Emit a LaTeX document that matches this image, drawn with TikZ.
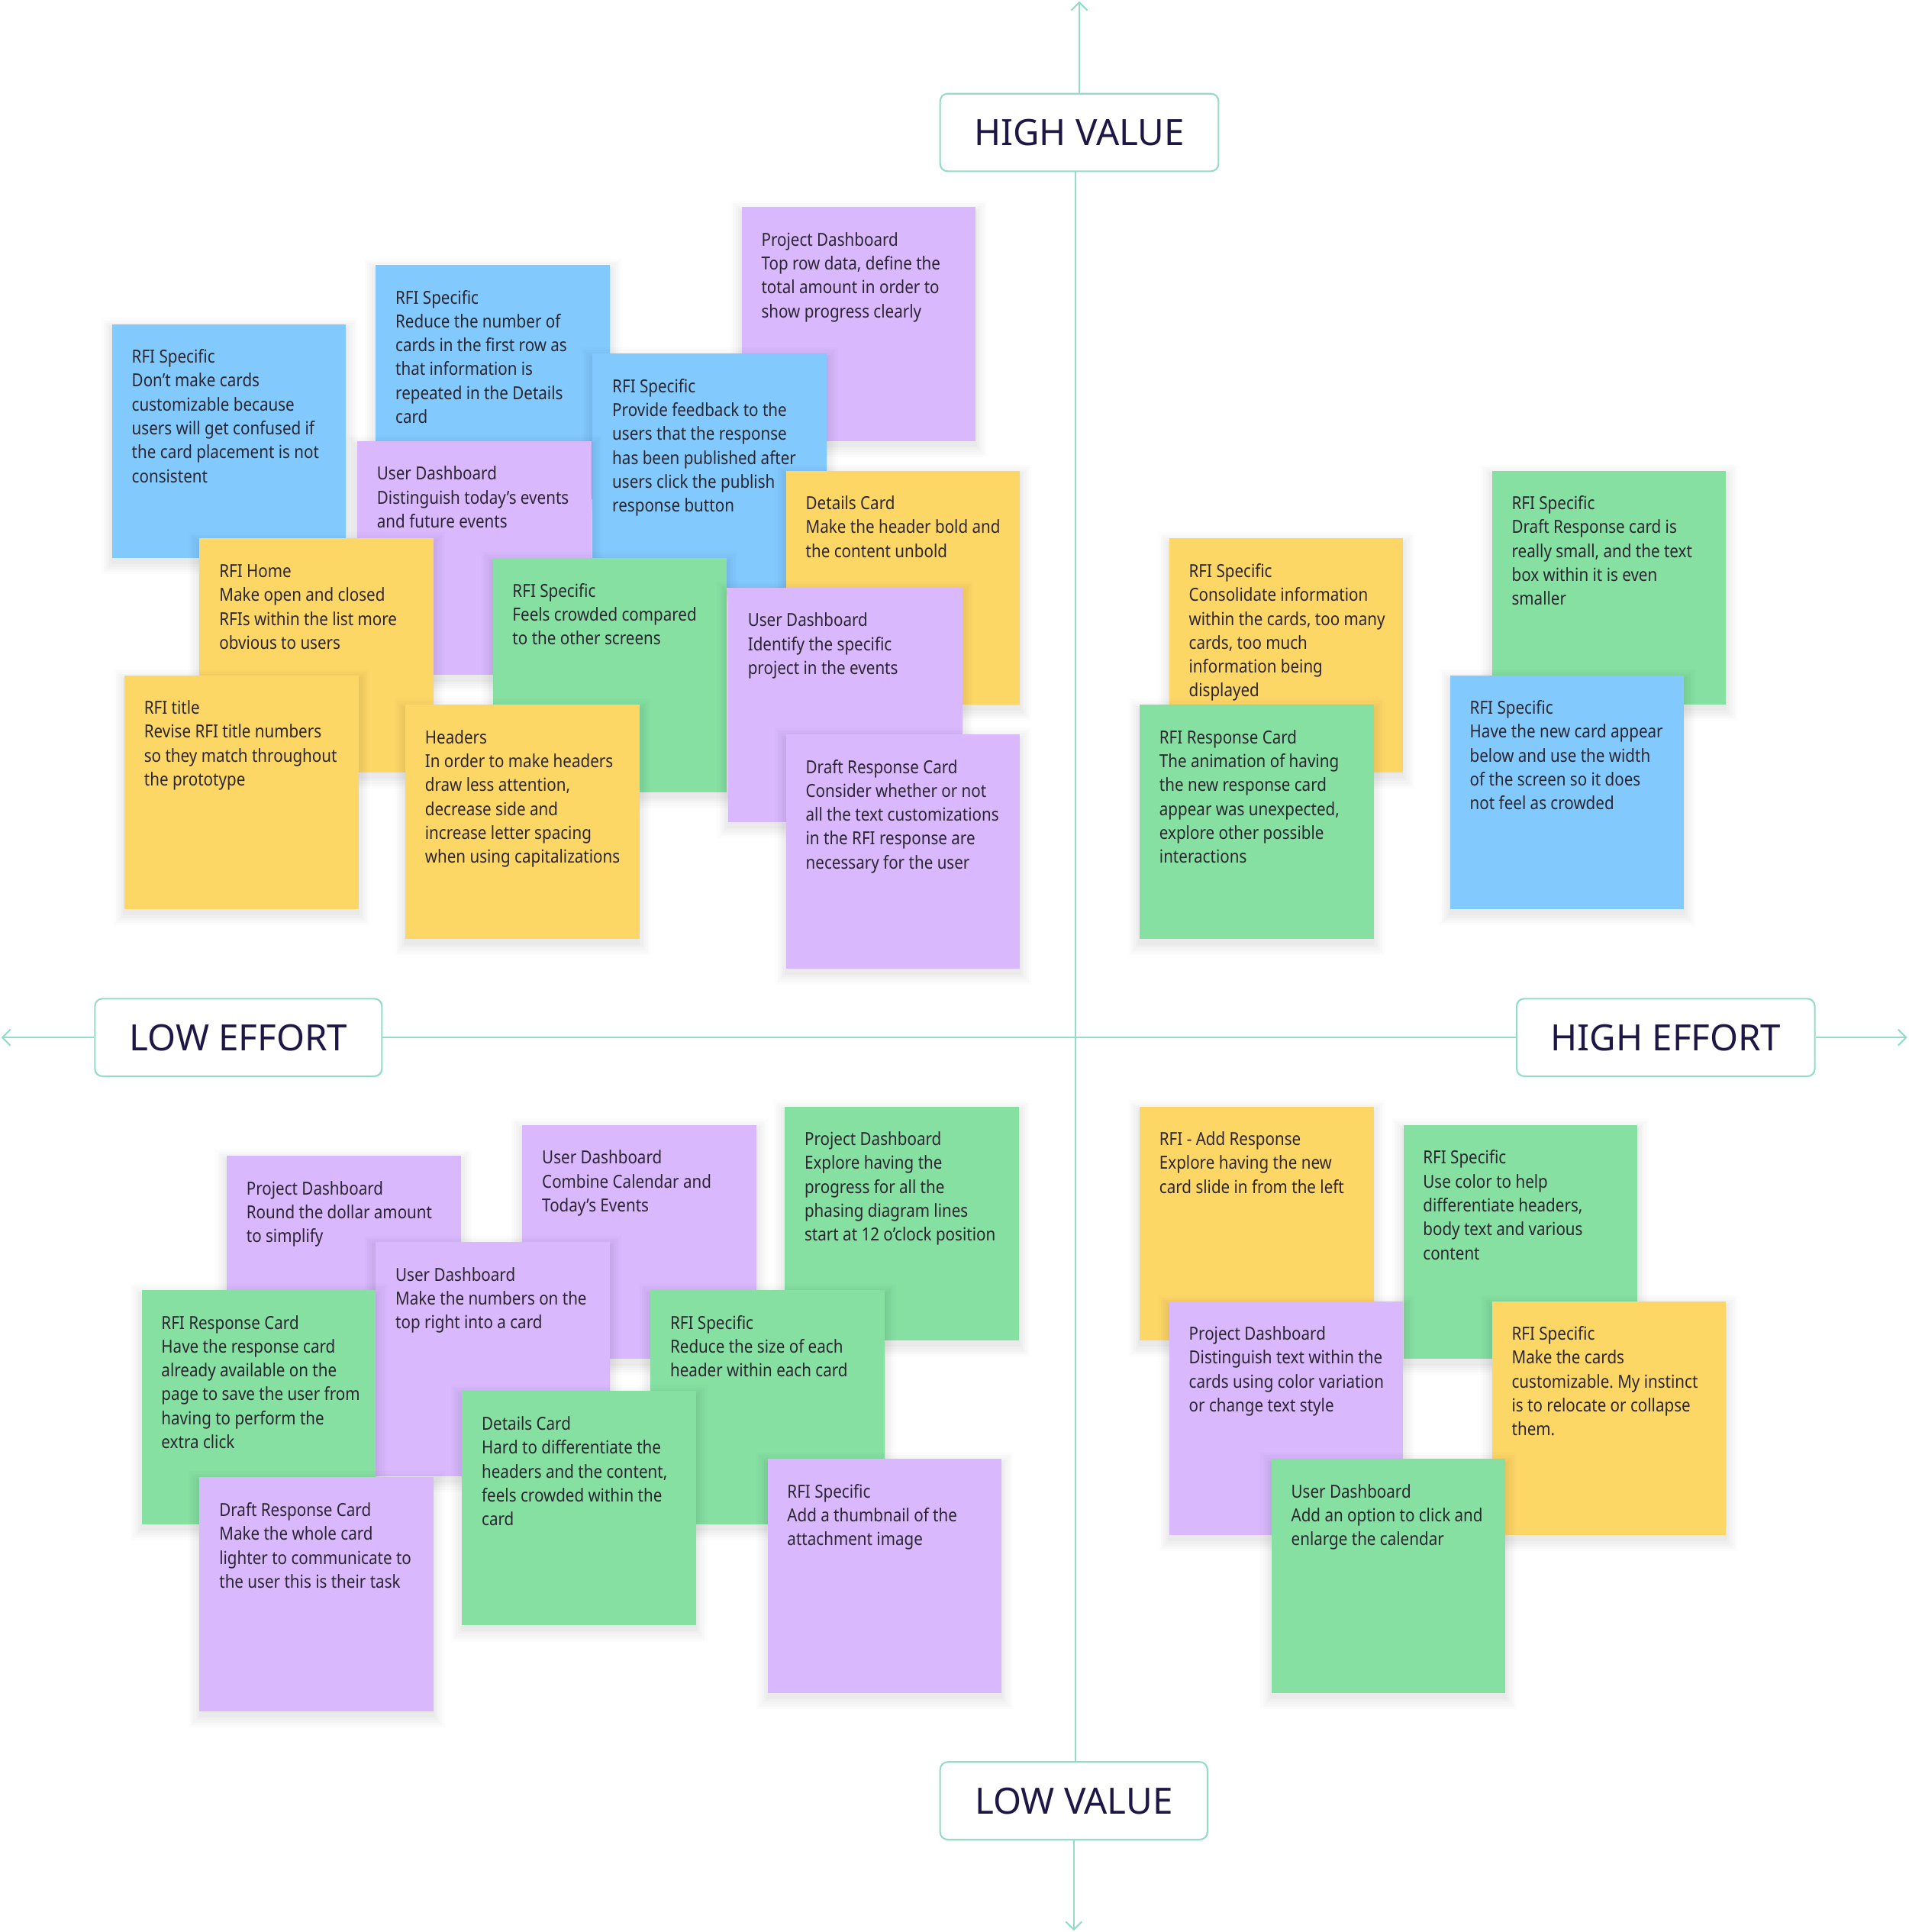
\documentclass[tikz,border=0pt]{standalone}
\usepackage{fontspec}
\setmainfont{Noto Sans}
\newfontfamily\cardfont[FakeStretch=0.875]{Noto Sans}
\frenchspacing
\usetikzlibrary{arrows.meta}
\definecolor{cblue}{HTML}{82CAFE}
\definecolor{cpurple}{HTML}{D9B8FD}
\definecolor{cyellow}{HTML}{FDD766}
\definecolor{cgreen}{HTML}{86E0A2}
\definecolor{axiscol}{HTML}{94DCC4}
\definecolor{ink}{HTML}{1E1745}
\definecolor{cardink}{HTML}{2B2530}
\tikzset{
  cardbox/.style={minimum width=3.0664cm, minimum height=3.0664cm, inner sep=0pt, outer sep=0pt},
  cardtext/.style={anchor=base west, inner sep=0pt, outer sep=0pt, text=cardink, font=\cardfont\fontsize{6.7}{8.91}\selectfont},
  axlabel/.style={draw=axiscol, line width=0.6pt, rounded corners=2.8pt, fill=white, text=ink,
    font=\fontsize{13.5}{16}\selectfont, minimum height=1.0168cm, inner sep=0pt},
  axisline/.style={draw=axiscol, line width=0.6pt},
  axistip/.style={-{Straight Barb[length=3pt,width=6pt]}}
}
\newcommand\card[5]{%
  \foreach \g/\o in {9/0.012,7/0.014,5/0.016,3/0.018,1/0.02}{\fill[black,opacity=\o] (#3-\g,#4+4-\g) rectangle (#3+190+\g,#4+194+\g);}
  \node[cardbox,fill=#2,anchor=north west] (#1) at (#3,#4) {};
  \node[cardtext] (#1t) at (#3+16,#4+31.6) {\parbox[t]{100pt}{\raggedright\frenchspacing #5}};
}
\begin{document}
\begin{tikzpicture}[x=0.016139cm,y=-0.016139cm]
\useasboundingbox (0,0) rectangle (1549,1568);

% axes
\node[axlabel, minimum width=3.647cm] (hv) at (876,107.5) {HIGH VALUE};
\node[axlabel, minimum width=3.502cm] (lv) at (871.5,1461.5) {LOW VALUE};
\node[axlabel, minimum width=3.760cm] (le) at (193.5,842) {LOW EFFORT};
\node[axlabel, minimum width=3.906cm] (he) at (1352,842) {HIGH EFFORT};
\coordinate (ax) at (873,842);
\coordinate (topend) at (876,1);
\coordinate (botend) at (871.5,1567);
\coordinate (leftend) at (1,842);
\coordinate (rightend) at (1548,842);
\draw[axisline,axistip] (hv.north) -- (topend);
\draw[axisline] (hv.south -| ax) -- (lv.north -| ax);
\draw[axisline,axistip] (lv.south) -- (botend);
\draw[axisline,axistip] (le.west) -- (leftend);
\draw[axisline] (le.east) -- (he.west);
\draw[axisline,axistip] (he.east) -- (rightend);

% upper left
\card{c1}{cblue}{91}{263}{RFI Specific\\Don’t make cards\\customizable because\\users will get confused if\\the card placement is not\\consistent}
\card{c2}{cblue}{305}{215}{RFI Specific\\Reduce the number of\\cards in the first row as\\that information is\\repeated in the Details\\card}
\card{c3}{cpurple}{602}{168}{Project Dashboard\\Top row data, define the\\total amount in order to\\show progress clearly}
\card{c4}{cblue}{481}{287}{RFI Specific\\Provide feedback to the\\users that the response\\has been published after\\users click the publish\\response button}
\card{c5}{cpurple}{290}{358}{User Dashboard\\Distinguish today’s events\\and future events}
\card{c6}{cyellow}{638}{382}{Details Card\\Make the header bold and\\the content unbold}
\card{c7}{cyellow}{162}{437}{RFI Home\\Make open and closed\\RFIs within the list more\\obvious to users}
\card{c8}{cgreen}{400}{453}{RFI Specific\\Feels crowded compared\\to the other screens}
\card{c9}{cpurple}{591}{477}{User Dashboard\\Identify the specific\\project in the events}
\card{c10}{cyellow}{101}{548}{RFI title\\Revise RFI title numbers\\so they match throughout\\the prototype}
\card{c11}{cyellow}{329}{572}{Headers\\In order to make headers\\draw less attention,\\decrease side and\\increase letter spacing\\when using capitalizations}
\card{c12}{cpurple}{638}{596}{Draft Response Card\\Consider whether or not\\all the text customizations\\in the RFI response are\\necessary for the user}

% upper right
\card{c13}{cyellow}{949}{437}{RFI Specific\\Consolidate information\\within the cards, too many\\cards, too much\\information being\\displayed}
\card{c14}{cgreen}{925}{572}{RFI Response Card\\The animation of having\\the new response card\\appear was unexpected,\\explore other possible\\interactions}
\card{c15}{cgreen}{1211}{382}{RFI Specific\\Draft Response card is\\really small, and the text\\box within it is even\\smaller}
\card{c16}{cblue}{1177}{548}{RFI Specific\\Have the new card appear\\below and use the width\\of the screen so it does\\not feel as crowded}

% lower left
\card{c17}{cpurple}{184}{938}{Project Dashboard\\Round the dollar amount\\to simplify}
\card{c18}{cpurple}{424}{913}{User Dashboard\\Combine Calendar and\\Today’s Events}
\card{c19}{cgreen}{637}{898}{Project Dashboard\\Explore having the\\progress for all the\\phasing diagram lines\\start at 12 o’clock position}
\card{c20}{cpurple}{305}{1008}{User Dashboard\\Make the numbers on the\\top right into a card}
\card{c21}{cgreen}{115}{1047}{RFI Response Card\\Have the response card\\already available on the\\page to save the user from\\having to perform the\\extra click}
\card{c22}{cgreen}{528}{1047}{RFI Specific\\Reduce the size of each\\header within each card}
\card{c23}{cgreen}{375}{1129}{Details Card\\Hard to differentiate the\\headers and the content,\\feels crowded within the\\card}
\card{c24}{cpurple}{162}{1199}{Draft Response Card\\Make the whole card\\lighter to communicate to\\the user this is their task}
\card{c25}{cpurple}{623}{1184}{RFI Specific\\Add a thumbnail of the\\attachment image}

% lower right
\card{c26}{cyellow}{925}{898}{RFI - Add Response\\Explore having the new\\card slide in from the left}
\card{c27}{cgreen}{1139}{913}{RFI Specific\\Use color to help\\differentiate headers,\\body text and various\\content}
\card{c28}{cpurple}{949}{1056}{Project Dashboard\\Distinguish text within the\\cards using color variation\\or change text style}
\card{c29}{cyellow}{1211}{1056}{RFI Specific\\Make the cards\\customizable. My instinct\\is to relocate or collapse\\them.}
\card{c30}{cgreen}{1032}{1184}{User Dashboard\\Add an option to click and\\enlarge the calendar}
\end{tikzpicture}
\end{document}
